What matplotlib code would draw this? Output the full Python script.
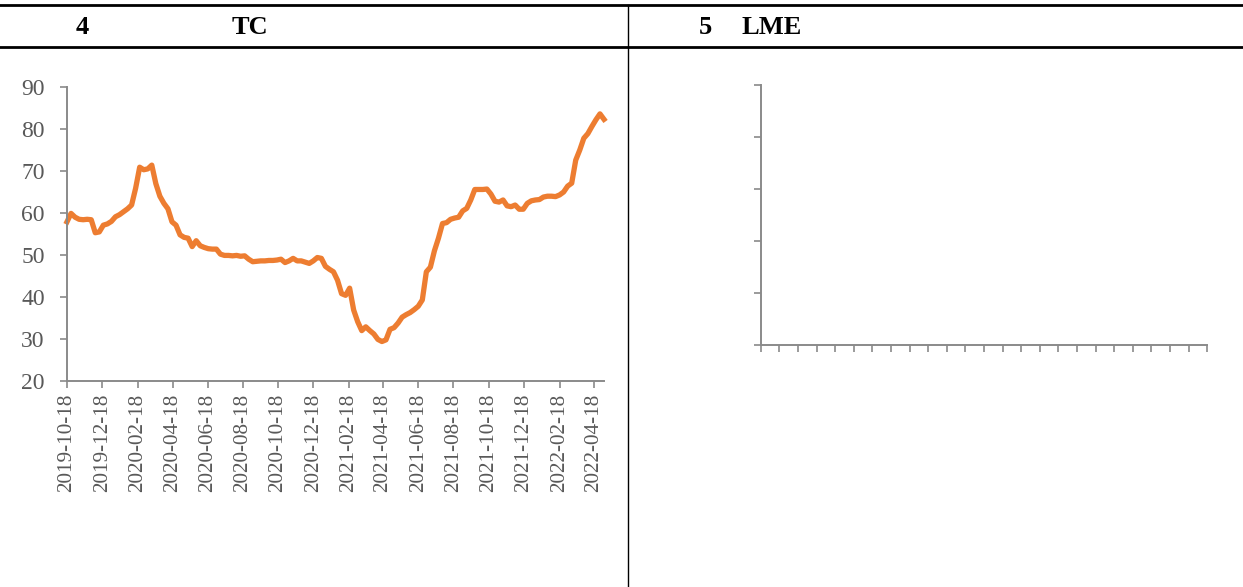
import matplotlib
matplotlib.use('Agg')
import matplotlib.pyplot as plt
import pandas as pd
from matplotlib.lines import Line2D

# ---------------- data ----------------
start_date = '2019-10-18'   # weekly series, one value per Friday
tc_values = [
    57.9, 59.9, 59.0, 58.5, 58.4, 58.5, 58.4, 55.3, 55.5, 57.1,
    57.4, 58.0, 59.1, 59.6, 60.3, 61.0, 61.9, 65.9, 70.9, 70.3,
    70.5, 71.4, 67.0, 64.0, 62.3, 61.0, 57.9, 57.1, 54.8, 54.2,
    54.0, 52.0, 53.4, 52.2, 51.8, 51.5, 51.4, 51.4, 50.2, 49.9,
    49.9, 49.8, 49.9, 49.7, 49.8, 49.0, 48.4, 48.5, 48.6, 48.6,
    48.7, 48.7, 48.8, 49.0, 48.2, 48.6, 49.2, 48.6, 48.6, 48.3,
    48.0, 48.6, 49.4, 49.2, 47.3, 46.6, 46.0, 44.0, 40.8, 40.4,
    42.1, 36.9, 34.1, 32.0, 32.9, 32.0, 31.2, 29.9, 29.4, 29.8,
    32.3, 32.7, 33.8, 35.2, 35.8, 36.3, 37.0, 37.8, 39.3, 46.0,
    47.1, 51.0, 54.0, 57.5, 57.7, 58.5, 58.8, 59.0, 60.5, 61.1,
    63.1, 65.6, 65.6, 65.6, 65.7, 64.5, 62.8, 62.6, 63.1, 61.7,
    61.5, 61.9, 60.9, 60.9, 62.3, 62.9, 63.1, 63.2, 63.8, 64.0,
    64.0, 63.9, 64.3, 65.0, 66.4, 67.1, 72.6, 75.0, 77.8, 78.9,
    80.6, 82.2, 83.6, 82.3,
]
x_tick_labels = [
    '2019-10-18', '2019-12-18', '2020-02-18', '2020-04-18', '2020-06-18',
    '2020-08-18', '2020-10-18', '2020-12-18', '2021-02-18', '2021-04-18',
    '2021-06-18', '2021-08-18', '2021-10-18', '2021-12-18', '2022-02-18',
    '2022-04-18',
]
y_ticks = [20, 30, 40, 50, 60, 70, 80, 90]
header_texts = ['4', 'TC', '5', 'LME']
lme_x_ticks = list(range(25))
lme_y_ticks = list(range(6))

dates = pd.date_range(start_date, periods=len(tc_values), freq='7D')

# ---------------- figure ----------------
W, H = 1243, 587
fig = plt.figure(figsize=(W / 100, H / 100), dpi=100)
fig.patch.set_facecolor('white')

def fx(px):
    return px / W

def fy(py):
    return 1 - py / H

SERIF = ['Liberation Serif', 'DejaVu Serif']
AXCOL = '#8a8a8a'
LBLCOL = '#595959'

# table-like frame
fig.add_artist(Line2D([0, 1], [fy(5), fy(5)], color='black', lw=2.0))
fig.add_artist(Line2D([0, 1], [fy(46.5), fy(46.5)], color='black', lw=2.0))
fig.add_artist(Line2D([fx(628), fx(628)], [fy(5), 0], color='black', lw=1.0))

# headers
hx = [82, 250, 705, 772]
for t, x in zip(header_texts, hx):
    fig.text(fx(x), fy(27), t, ha='center', va='center', fontsize=19,
             fontweight='bold', family=SERIF, color='black')

# ---------------- left chart ----------------
ax = fig.add_axes([fx(67), fy(381), fx(604) - fx(67), fy(87) - fy(381)])
ax.plot(dates, tc_values, color='#ED7D31', lw=3.8, solid_joinstyle='round',
        clip_on=False)
ax.set_xlim(dates[0], dates[-1])
ax.set_ylim(y_ticks[0], y_ticks[-1])
ax.set_yticks(y_ticks)
ax.set_yticklabels([str(v) for v in y_ticks])
ax.set_xticks(pd.to_datetime(x_tick_labels))
ax.set_xticklabels(x_tick_labels, rotation=90)
for s in ['top', 'right']:
    ax.spines[s].set_visible(False)
for s in ['left', 'bottom']:
    ax.spines[s].set_color(AXCOL)
    ax.spines[s].set_linewidth(1.4)
ax.tick_params(axis='both', direction='out', length=5, width=1.2, color=AXCOL,
               labelcolor=LBLCOL)
ax.tick_params(axis='y', pad=11, labelsize=17)
ax.tick_params(axis='x', pad=4, labelsize=15.3)
for lbl in ax.get_xticklabels() + ax.get_yticklabels():
    lbl.set_family(SERIF)
ax.set_facecolor('none')

# ---------------- right chart (empty) ----------------
ax2 = fig.add_axes([fx(760.7), fy(345.3), fx(1207.3) - fx(760.7), fy(85) - fy(345.3)])
ax2.set_xlim(lme_x_ticks[0], lme_x_ticks[-1])
ax2.set_ylim(lme_y_ticks[0], lme_y_ticks[-1])
ax2.set_xticks(lme_x_ticks)
ax2.set_yticks(lme_y_ticks)
ax2.set_xticklabels([])
ax2.set_yticklabels([])
for s in ['top', 'right']:
    ax2.spines[s].set_visible(False)
for s in ['left', 'bottom']:
    ax2.spines[s].set_color(AXCOL)
    ax2.spines[s].set_linewidth(1.4)
ax2.tick_params(axis='both', direction='out', length=5.2, width=1.2, color=AXCOL)
ax2.set_facecolor('none')

fig.savefig('out.png', dpi=100, facecolor='white')
